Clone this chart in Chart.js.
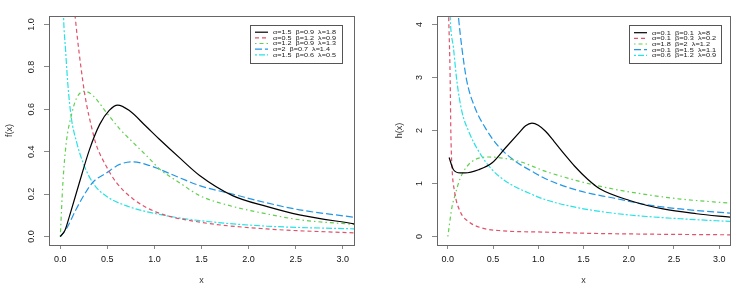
<!DOCTYPE html>
<html><head><meta charset="utf-8">
<script src="https://cdn.jsdelivr.net/npm/chart.js@4"></script>
<style>
html,body{margin:0;padding:0;background:#fff;width:740px;height:298px;overflow:hidden}
.c{position:absolute;top:0;height:298px}
</style></head><body>
<div class="c" style="left:0;width:370px"><canvas id="c1"></canvas></div>
<div class="c" style="left:370px;width:370px"><canvas id="c2"></canvas></div>
<script>
// ---- Tick labels ----
const xTicks = [0, 0.5, 1, 1.5, 2, 2.5, 3];
const fTicks = [0, 0.2, 0.4, 0.6, 0.8, 1.0];
const hTicks = [0, 1, 2, 3, 4];

// ---- Left panel: f(x) ----
const fLabels = ["α=1.5  β=0.9  λ=1.8","α=0.5  β=1.2  λ=0.9","α=1.2  β=0.9  λ=1.3","α=2  β=0.7  λ=1.4","α=1.5  β=0.6  λ=0.5"];
const f1x = [0, 0.05, 0.1, 0.2, 0.31, 0.42, 0.52, 0.61, 0.73, 0.91, 1.05, 1.28, 1.48, 1.83, 2.19, 2.54, 3.12];
const f1y = [0, 0.03, 0.1, 0.25, 0.41, 0.53, 0.595, 0.62, 0.595, 0.52, 0.46, 0.366, 0.288, 0.193, 0.142, 0.102, 0.06];
const f2x = [0.05, 0.1, 0.162, 0.24, 0.276, 0.33, 0.38, 0.49, 0.594, 0.77, 1.02, 1.48, 2.19, 3.12];
const f2y = [2.2, 1.35, 1.02, 0.73, 0.63, 0.52, 0.435, 0.33, 0.256, 0.178, 0.115, 0.068, 0.036, 0.017];
const f3x = [0, 0.028, 0.064, 0.117, 0.17, 0.258, 0.346, 0.488, 0.63, 0.77, 0.948, 1.05, 1.28, 1.48, 1.83, 2.19, 2.54, 3.12];
const f3y = [0, 0.256, 0.445, 0.57, 0.65, 0.685, 0.665, 0.586, 0.508, 0.445, 0.367, 0.32, 0.25, 0.193, 0.142, 0.107, 0.079, 0.057];
const f4x = [0, 0.064, 0.17, 0.258, 0.346, 0.49, 0.63, 0.77, 0.948, 1.05, 1.28, 1.48, 1.83, 2.19, 2.54, 3.12];
const f4y = [0, 0.036, 0.13, 0.20, 0.256, 0.30, 0.34, 0.352, 0.335, 0.318, 0.275, 0.24, 0.20, 0.159, 0.126, 0.091];
const f5x = [0.025, 0.035, 0.056, 0.08, 0.117, 0.17, 0.24, 0.35, 0.49, 0.72, 1.08, 1.48, 2.19, 3.12];
const f5y = [1.2, 1.03, 0.88, 0.72, 0.56, 0.45, 0.35, 0.25, 0.19, 0.142, 0.102, 0.075, 0.049, 0.036];

// ---- Right panel: h(x) ----
const hLabels = ["α=0.1  β=0.1  λ=8","α=0.1  β=0.3  λ=0.2","α=1.8  β=2  λ=1.2","α=0.1  β=1.5  λ=1.1","α=0.6  β=1.2  λ=0.9"];
const h1x = [0.014, 0.062, 0.137, 0.19, 0.34, 0.49, 0.636, 0.784, 0.86, 0.93, 1.0, 1.08, 1.176, 1.30, 1.40, 1.546, 1.68, 2.01, 2.38, 2.75, 3.12];
const h1y = [1.49, 1.26, 1.20, 1.20, 1.26, 1.39, 1.67, 1.95, 2.09, 2.14, 2.10, 1.985, 1.79, 1.53, 1.33, 1.08, 0.90, 0.68, 0.52, 0.43, 0.366];
const h2x = [0.005, 0.026, 0.033, 0.044, 0.074, 0.137, 0.23, 0.38, 0.6, 1.08, 1.457, 2.2, 3.12];
const h2y = [4.4, 2.93, 1.98, 1.36, 0.85, 0.47, 0.28, 0.16, 0.108, 0.083, 0.064, 0.045, 0.032];
const h3x = [0, 0.044, 0.081, 0.137, 0.21, 0.30, 0.45, 0.60, 0.784, 1.08, 1.457, 1.83, 2.2, 2.57, 3.12];
const h3y = [0, 0.54, 0.79, 1.10, 1.32, 1.45, 1.50, 1.48, 1.42, 1.23, 1.04, 0.896, 0.79, 0.707, 0.63];
const h4x = [0.1, 0.118, 0.155, 0.21, 0.30, 0.414, 0.56, 0.747, 0.93, 1.08, 1.457, 1.83, 2.2, 2.57, 3.12];
const h4y = [4.5, 4.13, 3.56, 2.93, 2.43, 2.05, 1.70, 1.42, 1.23, 1.09, 0.86, 0.726, 0.60, 0.52, 0.44];
const h5x = [0.02, 0.026, 0.062, 0.10, 0.155, 0.23, 0.34, 0.49, 0.67, 0.895, 1.08, 1.457, 1.83, 2.2, 2.57, 3.12];
const h5y = [4.5, 4.13, 3.56, 2.93, 2.36, 1.985, 1.61, 1.26, 1.01, 0.82, 0.694, 0.537, 0.44, 0.378, 0.335, 0.284];

const colors = ["#000000", "#DF536B", "#61D04F", "#2297E6", "#28E2E5"];
const dashes = [[], [4, 3], [1.5, 3, 4, 3], [7, 3], [2, 2, 6, 2]];
const FONT = "'Liberation Sans', Arial, Helvetica, sans-serif";

function mk(xs, ys, i, label) {
  return {
    label: label,
    data: xs.map((x, k) => ({ x: x, y: ys[k] })),
    borderColor: colors[i], borderWidth: 1.2, borderDash: dashes[i],
    pointRadius: 0, fill: false, cubicInterpolationMode: 'monotone'
  };
}

function framePlugin(fmt, lg) {
  return {
    id: 'frame',
    afterDraw(chart) {
      const { ctx, chartArea: a } = chart;
      ctx.save();
      ctx.strokeStyle = '#666'; ctx.lineWidth = 1; ctx.setLineDash([]);
      ctx.strokeRect(Math.round(a.left) + 0.5, Math.round(a.top) + 0.5, Math.round(a.right - a.left), Math.round(a.bottom - a.top));
      // y tick labels (rotated, R style)
      const ys = chart.scales.y;
      ctx.fillStyle = '#222'; ctx.font = '9px ' + FONT;
      ctx.textAlign = 'center'; ctx.textBaseline = 'middle';
      ys.ticks.forEach(t => {
        const py = ys.getPixelForValue(t.value);
        ctx.save(); ctx.translate(a.left - 17.5, py); ctx.rotate(-Math.PI / 2);
        ctx.fillText(fmt(t.value), 0, 0); ctx.restore();
      });
      // legend
      const lx = a.right - lg.right - lg.w, ly = a.top + lg.top;
      ctx.fillStyle = '#fff';
      ctx.fillRect(lx, ly, lg.w, 38);
      ctx.strokeStyle = '#555';
      ctx.strokeRect(Math.round(lx) + 0.5, Math.round(ly) + 0.5, lg.w, 38);
      ctx.font = '6px ' + FONT; ctx.textAlign = 'left';
      const sx = lg.textW / ctx.measureText(chart.data.datasets[0].label).width;
      chart.data.datasets.forEach((ds, i) => {
        const ry = ly + 7.7 + i * 5.65;
        ctx.strokeStyle = ds.borderColor; ctx.lineWidth = 1.2;
        ctx.setLineDash(ds.borderDash);
        ctx.beginPath(); ctx.moveTo(lx + 5, ry); ctx.lineTo(lx + 18, ry); ctx.stroke();
        ctx.fillStyle = '#222';
        ctx.save(); ctx.translate(lx + 23, ry + 0.3); ctx.scale(sx, 1);
        ctx.fillText(ds.label, 0, 0); ctx.restore();
      });
      ctx.restore();
    }
  };
}

function makeChart(id, datasets, yMin, yMax, yTicks, yTitle, fmt, pad, yW, lg) {
  return new Chart(document.getElementById(id), {
    type: 'line',
    data: { datasets: datasets },
    plugins: [framePlugin(fmt, lg)],
    options: {
      responsive: true, maintainAspectRatio: false, animation: false,
      layout: { padding: pad },
      plugins: { legend: { display: false }, tooltip: { enabled: false } },
      scales: {
        x: {
          type: 'linear', min: -0.12, max: 3.12,
          afterBuildTicks: s => { s.ticks = xTicks.map(v => ({ value: v })); },
          afterFit: s => { s.height = 45; },
          ticks: { callback: v => Number(v).toFixed(1), color: '#111', font: { family: FONT, size: 9 }, padding: 5, maxRotation: 0, autoSkip: false },
          grid: { drawOnChartArea: false, drawTicks: true, tickLength: 4, color: '#888', tickColor: '#888' },
          border: { display: true, color: '#666' },
          title: { display: true, text: 'x', color: '#333', font: { family: FONT, size: 9 }, padding: { top: 0, bottom: 4 } }
        },
        y: {
          type: 'linear', min: yMin, max: yMax,
          afterBuildTicks: s => { s.ticks = yTicks.map(v => ({ value: v })); },
          afterFit: s => { s.width = yW; },
          ticks: { display: false },
          grid: { drawOnChartArea: false, drawTicks: true, tickLength: 5, color: '#888', tickColor: '#888' },
          border: { display: true, color: '#666' },
          title: { display: true, text: yTitle, color: '#333', font: { family: FONT, size: 9 }, padding: { top: 4, bottom: 0 } }
        }
      }
    }
  });
}

makeChart('c1', [mk(f1x, f1y, 0, fLabels[0]), mk(f2x, f2y, 1, fLabels[1]), mk(f3x, f3y, 2, fLabels[2]), mk(f4x, f4y, 3, fLabels[3]), mk(f5x, f5y, 4, fLabels[4])],
  -0.04, 1.04, fTicks, 'f(x)', v => v.toFixed(1), { left: 0, right: 16, top: 16, bottom: 8 }, 49,
  { right: 12, w: 92, top: 8.5, textW: 63 });
makeChart('c2', [mk(h1x, h1y, 0, hLabels[0]), mk(h2x, h2y, 1, hLabels[1]), mk(h3x, h3y, 2, hLabels[2]), mk(h4x, h4y, 3, hLabels[3]), mk(h5x, h5y, 4, hLabels[4])],
  -0.16, 4.16, hTicks, 'h(x)', v => String(v), { left: 20, right: 10, top: 16, bottom: 8 }, 47,
  { right: 9, w: 92, top: 9, textW: 58 });
</script>
</body></html>
